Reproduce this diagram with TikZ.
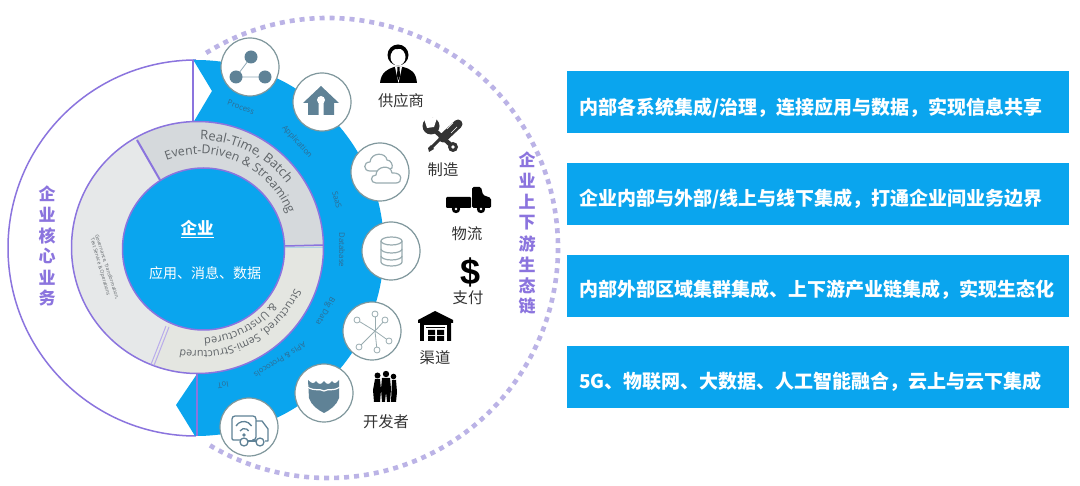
\documentclass[tikz,border=0pt]{standalone}
\usepackage{fontspec}
\usetikzlibrary{decorations.text}
\newfontfamily\cjk{Noto Sans CJK SC}
\newfontfamily\lat{Open Sans}
\newfontfamily\arl{Liberation Sans}
\definecolor{skyb}{HTML}{0AA5EE}
\definecolor{purp}{HTML}{8B74DE}
\definecolor{dotc}{HTML}{BBB3E6}
\definecolor{rimc}{HTML}{7F979C}
\definecolor{icn}{HTML}{5F8296}
\definecolor{ringa}{HTML}{D5D9DC}
\definecolor{ringb}{HTML}{E6E8E9}
\definecolor{ringc}{HTML}{E4E6E1}
\definecolor{labc}{HTML}{333333}
\definecolor{arct}{HTML}{5F6468}
\definecolor{smal}{HTML}{2F6B92}
\tikzset{
  bar/.style={fill=skyb,minimum width=502pt,minimum height=62pt,inner sep=0pt,text=white},
  bartxt/.style={text=white,inner sep=0pt,font=\cjk\bfseries\fontsize{19}{22}\selectfont},
  badge/.style={circle,draw=rimc,line width=1.2pt,fill=white,minimum size=58pt,inner sep=0pt},
  tag/.style={text=labc,inner sep=0pt,font=\cjk\fontsize{15.3}{18}\selectfont},
  vert/.style={text=purp,inner sep=0pt,font=\cjk\bfseries\fontsize{17}{21}\selectfont,align=center},
  tiny/.style={text=smal,inner sep=0pt,font=\lat\fontsize{7.8}{9}\selectfont},
  iconline/.style={draw=icn,line width=1.3pt},
  lightline/.style={draw=rimc!80!white,line width=1.2pt},
}
\begin{document}
\begin{tikzpicture}[x=1pt,y=1pt,line join=round]
\useasboundingbox (0,0) rectangle (1080,-486);
\fill[white] (0,0) rectangle (1080,-486);
% dotted ecosystem circle
\draw[dotc,line width=4.6pt,dash pattern=on 5pt off 5pt] ([shift={(328,-248)}]122:230) arc[start angle=122,end angle=-122,radius=230];
% big arc
\draw[purp,line width=1.5pt] (196,-60) arc[start angle=90,end angle=270,radius=188];
% blue band
\fill[skyb] (193,-59.5) -- (196,-60) arc[start angle=90,end angle=-90,radius=188] -- (195,-436) -- (176,-405) -- (197,-374) -- (193,-123) -- (212,-91) -- cycle;
\draw[purp,line width=1.8pt] (193,-60) -- (193,-123);
\draw[purp,line width=1.8pt] (197,-374) -- (197,-436);
% ring sectors
\fill[ringb] (197.5,-247.5) -- ++(119.4:126) arc[start angle=119.4,end angle=249,radius=126] -- cycle;
\fill[ringa] (197.5,-247.5) -- ++(119.4:126) arc[start angle=119.4,end angle=0,radius=126] -- cycle;
\fill[ringc] (197.5,-247.5) -- ++(0:126) arc[start angle=0,end angle=-111,radius=126] -- cycle;
\draw[purp,line width=1.5pt] (197.5,-247.5) circle[radius=126];
\draw[purp,line width=2pt] (137,-140) -- (160,-180);
\draw[purp,line width=1.5pt] (285,-246) -- (323.5,-245);
\draw[purp!60!white,line width=1pt] (151,-364.5) -- (166,-326);
\draw[purp!60!white,line width=1pt] (154,-365.5) -- (169,-327);
% centre
\node[circle,fill=skyb,draw=purp,line width=1.5pt,minimum size=162pt,inner sep=0pt] (core) at (203.5,-249) {};
\node[text=white,inner sep=0pt,font=\cjk\bfseries\fontsize{16.5}{20}\selectfont] (coretitle) at (197,-229) {\underline{企业}};
\node[text=white,inner sep=0pt,font=\cjk\fontsize{14}{17}\selectfont] (coretxt) at (205,-273) {应用、消息、数据};
% arc texts
\path[decorate,decoration={text along path,text={|\lat\fontsize{13}{15}\selectfont\color{arct}|Real-Time, Batch}}] ([shift={(200,-248)}]90:108) arc[start angle=90,end angle=25,radius=108];
\path[decorate,decoration={text along path,text={|\lat\fontsize{12.3}{15}\selectfont\color{arct}|Event-Driven {\&} Streaming}}] ([shift={(200,-248)}]111:94) arc[start angle=111,end angle=0,radius=94];
\path[decorate,decoration={text along path,text={|\lat\fontsize{10.8}{13}\selectfont\color{arct}|Structured, Semi-Structured}}] ([shift={(200,-248)}]-23:103) arc[start angle=-23,end angle=-125,radius=103];
\path[decorate,decoration={text along path,text={|\lat\fontsize{11}{13}\selectfont\color{arct}|{\&} Unstructured}}] ([shift={(200,-248)}]-37:90) arc[start angle=-37,end angle=-115,radius=90];
\node[rotate=-72,text=arct,inner sep=0pt,font=\lat\fontsize{5}{6}\selectfont] (gov1) at (107,-267) {Governance, Transformation,};
\node[rotate=-74,text=arct,inner sep=0pt,font=\lat\fontsize{5}{6}\selectfont] (gov2) at (100,-267) {Test Service \& Operations};
% small labels
\node[tiny,rotate=-20] (l1) at (241,-107) {Process};
\node[tiny,rotate=-48] (l2) at (297,-142) {Application};
\node[tiny,rotate=-75] (l3) at (337,-200) {SaaS};
\node[tiny,rotate=-90] (l4) at (342,-250) {Database};
\node[tiny,rotate=-120] (l5) at (325,-311) {Big Data};
\node[tiny,rotate=-148] (l6) at (280,-360) {APIs \& Protocols};
\node[tiny,rotate=-170] (l7) at (223,-385) {IoT};
% badges
\node[badge] (b1) at (250,-67) {};
\node[badge] (b2) at (322,-102) {};
\node[badge] (b3) at (380,-172) {};
\node[badge] (b4) at (391,-251) {};
\node[badge] (b5) at (372,-331) {};
\node[badge] (b6) at (324,-393) {};
\node[badge] (b7) at (249,-427) {};
% process icon
\draw[icn!70!white,line width=.8pt] (251,-57) -- (236,-77) -- (265,-77);
\fill[icn] (251,-57) circle[radius=6.5] (236,-77) circle[radius=6.5] (265,-77) circle[radius=6.5];
% home icon
\fill[icn] (321,-86) -- (339,-103) -- (334,-103) -- (334,-115) -- (308,-115) -- (308,-103) -- (303,-103) -- cycle;
\fill[white] (321,-100) circle[radius=4] (318.5,-100) rectangle (323.5,-115);
% cloud icon
\draw[lightline,fill=white] (370,-171) .. controls (363,-171) and (363,-162) .. (370,-162) .. controls (371,-152) and (386,-152) .. (387,-160) .. controls (391,-160) and (393,-165) .. (392,-168) -- (385,-171) -- cycle;
\draw[lightline,fill=white] (376,-183) .. controls (370,-183) and (370,-175) .. (376,-175) .. controls (376,-166) and (391,-164) .. (392,-173) .. controls (403,-172) and (403,-183) .. (396,-183) -- cycle;
% database icon
\draw[lightline] (381,-241) -- (381,-262) arc[start angle=180,end angle=360,x radius=10.5,y radius=4] -- (402,-241);
\draw[lightline] (391.5,-241) ellipse[x radius=10.5,y radius=4];
\draw[lightline] (381,-249) arc[start angle=180,end angle=360,x radius=10.5,y radius=4];
\draw[lightline] (381,-256) arc[start angle=180,end angle=360,x radius=10.5,y radius=4];
% hub icon
\foreach \p in {(357,-320),(375,-314),(385,-320),(389,-341),(377,-350),(359,-347)}{
  \draw[lightline,line width=.8pt] (375,-331) -- \p;
  \draw[lightline,line width=.8pt,fill=white] \p circle[radius=3];
}
% shield icon
\fill[icn] (308,-380) .. controls (312,-384) and (314,-384) .. (316,-381) .. controls (319,-385) and (321,-385) .. (324,-381) .. controls (327,-385) and (329,-385) .. (332,-381) .. controls (334,-384) and (336,-384) .. (339,-380) -- (339,-398) .. controls (337,-405) and (330,-410) .. (324,-413) .. controls (318,-410) and (311,-405) .. (309,-398) -- cycle;
\draw[white,line width=1.2pt] (307,-387) .. controls (316,-392) and (319,-388) .. (324,-391) .. controls (329,-388) and (332,-392) .. (340,-387);
% iot truck icon
\draw[iconline,rounded corners=3pt] (246,-440) -- (236,-440) .. controls (233,-440) and (232,-438) .. (232,-436) -- (232,-416) -- (256,-416) -- (256,-440) -- (252,-440);
\draw[iconline] (256,-421) -- (262,-421) -- (268,-429) -- (268,-441) -- (265,-441);
\draw[iconline] (248,-441) -- (256,-441);
\draw[iconline] (236,-426) arc[start angle=150,end angle=30,radius=9];
\draw[iconline] (240,-431) arc[start angle=150,end angle=30,radius=5];
\fill[icn] (244,-435) circle[radius=1.8];
\draw[iconline,fill=white] (244,-442) circle[radius=4];
\draw[iconline,fill=white] (260,-442) circle[radius=4];
% supplier icon
\fill[black] (380,-83) .. controls (381,-72) and (388,-69) .. (394,-67) -- (403,-67) .. controls (411,-69) and (416,-72) .. (417,-83) -- cycle;
\fill[black] (398,-55) circle[radius=10.5];
\fill[white] (398,-57) ellipse[x radius=7.5,y radius=8.5];
\fill[black] (391,-54) .. controls (392,-48) and (395,-49) .. (398,-49) .. controls (402,-49) and (404,-48) .. (405,-54) .. controls (408,-42) and (389,-42) .. (391,-54) -- cycle;
\fill[white] (395,-67) -- (402,-67) -- (398.5,-83) -- cycle;
\fill[black] (397.5,-67) -- (399.5,-67) -- (400,-76) -- (398.5,-80) -- (397,-76) -- cycle;
% tools icon
\draw[labc,line width=3pt] (442,-137) -- (431,-148);
\fill[labc] (429,-152) -- (428,-148) -- (431,-145) -- (434,-149) -- cycle;
\draw[labc,line width=9pt,line cap=round] (458,-124) -- (443,-138);
\draw[labc,line width=4.5pt] (431,-127) -- (453,-147);
\fill[labc] (453,-147) circle[radius=5];
\fill[white] (453,-147) circle[radius=1.8];
\fill[labc] (431,-126) circle[radius=8.5];
\fill[white] (423,-116) -- (437,-118) -- (434,-127) -- (427,-128) -- cycle;
\draw[white,line width=.7pt] (453,-123) -- (447,-129) (457,-127) -- (451,-133);
% logistics truck icon
\fill[black,rounded corners=1pt] (446,-197) rectangle (471,-208);
\fill[black,rounded corners=1.5pt] (472,-208) -- (472,-187) -- (481,-187) -- (483,-195) -- (491,-198) -- (491,-208) -- cycle;
\fill[black] (456,-209) circle[radius=4.2] (481,-209) circle[radius=4.2];
\fill[white] (456,-209) circle[radius=1.4] (481,-209) circle[radius=1.4];
% dollar
\node[text=black,inner sep=0pt,font=\arl\bfseries\fontsize{36}{38}\selectfont] (dollar) at (471,-272) {\$};
% warehouse icon
\fill[black] (435,-311) -- (453,-320) -- (453,-323) -- (451,-323) -- (451,-341) -- (420,-341) -- (420,-323) -- (418,-323) -- (418,-320) -- cycle;
\fill[white] (424,-325) rectangle (447,-341);
\fill[black] (426,-327) rectangle (445,-328.5);
\fill[black] (428,-330) rectangle (435,-335) (437,-330) rectangle (444,-335) (428,-336) rectangle (435,-341) (437,-336) rectangle (444,-341);
% developers icon
\fill[black] (377.5,-375.5) circle[radius=3] (386,-374) circle[radius=3.2] (393.5,-376.5) circle[radius=2.8];
\fill[black] (374,-402) -- (373,-390) -- (375,-379) -- (380,-379) -- (381,-390) -- (380,-402) -- cycle;
\fill[black] (382,-402) -- (381,-389) -- (382,-378) -- (390,-378) -- (391,-389) -- (390,-402) -- (387,-402) -- (386,-392) -- (385,-402) -- cycle;
\fill[black] (391,-402) -- (392,-380) -- (396,-380) -- (397,-392) -- (396,-402) -- cycle;
% tags
\node[tag] (t1) at (401,-101) {供应商};
\node[tag] (t2) at (443,-170) {制造};
\node[tag] (t3) at (467,-234) {物流};
\node[tag] (t4) at (468,-298) {支付};
\node[tag] (t5) at (435,-358) {渠道};
\node[tag] (t6) at (386,-422) {开发者};
% vertical labels
\foreach \c/\yy [count=\i] in {企/193.5,业/215,核/235.5,心/256,业/277.5,务/298}{
  \node[vert] (va\i) at (47,-\yy) {\c};
}
\foreach \c/\yy [count=\i] in {企/160,业/181,上/202,下/223,游/244,生/265,态/285.5,链/306}{
  \node[vert] (vb\i) at (527,-\yy) {\c};
}
% bars
\node[bar] (r1) at (818,-102) {};
\node[bar] (r2) at (818,-194) {};
\node[bar] (r3) at (818,-286) {};
\node[bar] (r4) at (818,-377) {};
\node[bartxt,anchor=west] (x1) at (579,-108) {内部各系统集成/治理，连接应用与数据，实现信息共享};
\node[bartxt,anchor=west] (x2) at (579,-199) {企业内部与外部/线上与线下集成，打通企业间业务边界};
\node[bartxt,anchor=west] (x3) at (579,-290) {内部外部区域集群集成、上下游产业链集成，实现生态化};
\node[bartxt,anchor=west] (x4) at (579,-382) {5G、物联网、大数据、人工智能融合，云上与云下集成};
\end{tikzpicture}
\end{document}
